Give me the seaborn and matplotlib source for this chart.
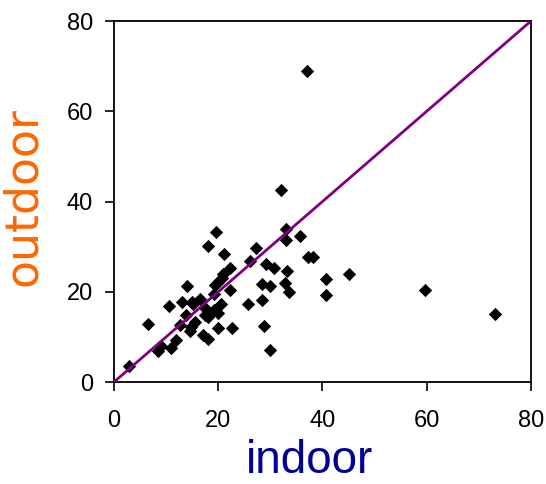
import matplotlib
matplotlib.use("Agg")
import matplotlib.pyplot as plt
import seaborn as sns
import pandas as pd

indoor = [37.0, 32.0, 19.6, 18.0, 21.1, 27.2, 33.0, 33.0, 35.7, 37.3, 38.1, 26.0,
          29.1, 30.7, 22.3, 33.1, 45.0, 40.7, 40.7, 32.8, 33.5, 28.3, 29.9, 22.3,
          59.7, 73.1, 25.7, 28.3, 28.8, 29.9, 22.7, 14.1, 10.6, 6.5, 2.9, 8.4,
          10.9, 9.1, 11.9, 13.0, 17.1, 18.1, 20.0, 14.5, 12.7, 13.8, 15.5, 16.5,
          17.5, 19.1, 20.0, 20.5, 20.0, 18.1, 15.1, 19.4, 20.7, 17.5, 15.0, 19.2,
          14.7, 21.0]
outdoor = [69.0, 42.6, 33.3, 30.2, 28.4, 29.7, 33.8, 31.5, 32.4, 27.6, 27.6, 26.8,
           26.2, 25.3, 25.3, 24.5, 23.9, 22.8, 19.2, 22.0, 19.9, 21.7, 21.3, 20.4,
           20.4, 15.0, 17.3, 18.2, 12.4, 7.1, 11.9, 21.3, 16.9, 12.9, 3.5, 6.9,
           7.5, 8.0, 9.3, 17.8, 10.4, 9.6, 11.9, 11.3, 12.6, 14.8, 13.4, 18.4,
           16.3, 19.6, 22.2, 17.4, 15.2, 14.5, 17.4, 21.5, 23.0, 14.8, 17.7, 16.0,
           12.3, 24.0]
line_x = [0, 80]
line_y = [0, 80]
ticks = [0, 20, 40, 60, 80]

sns.set_style("ticks")
plt.rcParams['font.family'] = ['Liberation Sans', 'DejaVu Sans']

fig = plt.figure(figsize=(5.46, 4.84), dpi=100)
ax = fig.add_axes([0.2088, 0.2107, 0.9725 - 0.2088, 0.9566 - 0.2107])

df = pd.DataFrame({"indoor": indoor, "outdoor": outdoor})
sns.lineplot(x=line_x, y=line_y, ax=ax, color="#800080", linewidth=2.0, zorder=3)
sns.scatterplot(data=df, x="indoor", y="outdoor", ax=ax, marker="D", s=46,
                color="black", edgecolor="black", linewidth=0, zorder=2)

ax.set_xlim(0, 80)
ax.set_ylim(0, 80)
ax.set_xticks(ticks)
ax.set_yticks(ticks)
ax.tick_params(direction="out", length=6.5, width=1.2, labelsize=17, colors="black")
ax.tick_params(axis="x", pad=14)
ax.tick_params(axis="y", pad=8.5)
for sp in ax.spines.values():
    sp.set_visible(True)
    sp.set_linewidth(1.3)
    sp.set_color("black")
ax.set_xlabel("indoor", fontsize=33, color="#000099")
ax.xaxis.set_label_coords(0.468, -0.158)
ax.set_ylabel("outdoor", fontsize=33, color="#FF6600", family=["DejaVu Sans"])
ax.yaxis.set_label_coords(-0.162, 0.515)

fig.savefig("out.png", dpi=100)
